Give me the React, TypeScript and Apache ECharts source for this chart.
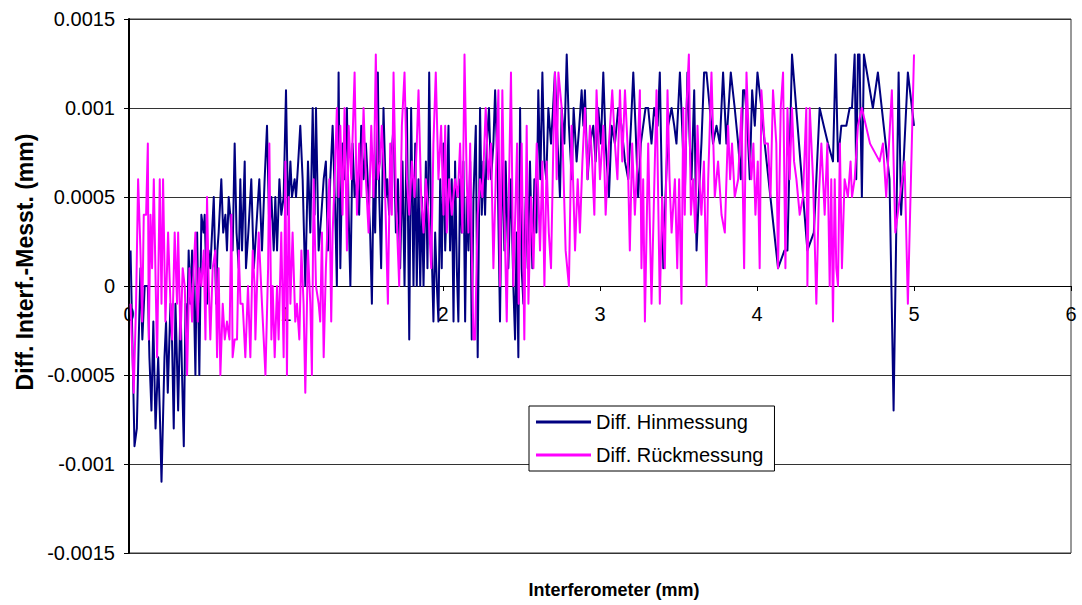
import React, { useEffect, useRef } from "react";
import * as echarts from "echarts";

// x in 1/100 mm, y in 1/10000 mm
const hin0: [number, number][] = [
  [1, 2], [3.5, -9], [5, -8], [6.2, -3], [7.3, 1], [8.5, -3], [10, 0], [12, 0], [13, -4], [14.3, -7],
  [15.5, -2], [16.9, -8], [18.6, -4], [19.6, -7], [20.7, -11], [22.6, -4], [23.6, -2], [24.7, -6], [26.4, -1], [27.4, -3],
  [28.5, -8], [29.6, -1], [30.5, -4], [31.3, -7], [32.8, -1], [33.8, -5], [34.9, -9], [36, -1], [37, -3], [38, 2],
  [39, -1], [40.2, 2], [41.2, 0], [42.3, -5], [43.4, 3], [44.1, -1], [44.8, -5], [46.1, 4], [47.5, 3], [48.2, 4],
  [49.7, -1], [50.7, 2], [51.8, 1], [52.9, 3], [54, 5], [55.5, -1], [56.3, 2], [57.1, 3], [58.8, 6], [60, 3],
  [61.4, 4], [62.4, 2], [63.5, 5], [64.5, 4], [66, 2], [67.3, 8], [68.5, 3], [69.9, 1], [70.9, 6], [72, 2],
  [73.7, 7], [74.5, 1], [76, 3], [77.9, 6], [79.5, 1],
];
const hin1: [number, number][] = [
  [81.6, 4], [83, 6], [84.7, 2], [86.4, 6], [87.9, 9], [89.4, 3], [90.7, 5], [92.2, 2], [93.2, 5], [94.3, 2],
  [95.8, 6], [97, 4], [98.5, 5], [100, 11], [101.3, 4], [102.8, 7], [103.8, 5], [105.5, 6], [106.4, 5], [107.8, 7],
  [109.1, 9], [110.6, 6], [112.3, 0], [114, 7], [115.5, 3], [117, 10], [118.2, 4], [119.1, 10], [120.8, 2], [122.5, 4],
  [124, 6], [125.4, 7], [126.7, 2], [128.2, 6], [129.7, 9], [131.4, 4], [132.4, 0], [133.5, 12], [134.6, 1], [136, 8],
  [137.3, 6], [138.8, 10], [139.9, 4], [141, 0], [142.4, 8], [143.7, 5], [145.2, 6], [146.6, 4], [147.9, 9], [149.4, 6],
  [150.9, 8], [152.6, 5], [153.6, 3], [154.7, -1], [155.8, 6], [156.8, 3], [158.5, 12], [159.4, 5], [160.6, 1], [162.1, 10],
  [163.6, 5],
];
const hin2: [number, number][] = [
  [164.5, 6], [165.7, 4], [167, 7], [168.5, 9], [170, 3], [171.3, 6], [172.7, 1], [174.2, 7], [175.5, 0], [177, 10],
  [178.5, -3], [179.7, 10], [181.2, 0], [182.3, 8], [183.3, 0], [184.4, 6], [185.5, 0], [186.5, 5], [187.6, 0], [189.1, 7],
  [190.1, 1], [191.2, 12], [192.5, 3], [193.9, -2], [195, 3], [196.1, 0], [197.1, -2], [198.2, 6], [199.2, 1], [200.3, 8],
  [201.4, 2], [202.4, 5], [203.5, 9], [204.5, 2], [205.6, 6], [206.7, -2], [207.7, 7], [208.8, 1], [209.8, -2], [210.9, 6],
  [212, 3], [213, 7], [214.1, -2], [215.1, 5], [216.2, 2], [217.3, 7], [218.3, -3], [219.4, 5], [220.9, 9], [222.1, -4],
  [223.6, 10], [224.7, 4], [225.7, 7], [226.8, 4], [227.9, 8], [229.3, 10], [230.6, 6], [232.1, 8], [233.2, 11], [234.9, 6],
  [236.3, -2], [237.8, 8], [239.1, 2], [239.9, 7], [241.6, 1], [243.3, 6], [244.8, 0], [245.9, -3], [246.9, 3], [248, -4],
];
const hin3: [number, number][] = [
  [249.1, 10], [250.1, 1], [251.2, -1], [252.7, 5], [254, 1], [255.4, 7], [256.9, 1], [258.2, 6], [259.5, 3], [260.7, 11],
  [262, 6], [263.3, 12], [264.6, 7], [265.8, 6], [267.1, 10], [268.8, 8], [270.1, 10], [271.3, 12], [273, 8], [274.5, 5],
  [275.6, 10], [277.3, 8], [278.8, 13], [280.2, 9], [282, 6], [283.2, 10], [285.1, 7], [286.8, 9], [288.3, 11], [289.4, 9],
  [290.4, 11], [292.1, 6], [293.6, 8], [295.7, 9], [297.2, 7], [298.9, 10], [300.6, 8], [302.1, 12], [303.6, 8], [305.7, 5],
  [307.4, 9], [309.5, 8], [311.6, 10], [313.7, 9], [315.9, 7], [318, 6], [319.7, 9], [321.2, 12], [322.6, 9], [324.3, 5],
  [326, 8], [327.5, 9], [329, 10],
];
const hin4: [number, number][] = [
  [330.7, 10], [332.8, 8], [334.5, 10], [336.7, 9], [338.1, 12], [340.3, 1], [341.7, 5], [343.4, 9], [345.6, 10], [347.3, 9],
  [348.7, 8], [350.9, 12], [352.3, 9], [354, 5], [355.7, 12], [357.2, 8], [358.3, 6], [360, 11], [361.5, 2], [362.9, 5],
  [364.6, 8], [366.3, 12], [367.8, 12], [369.9, 10], [372, 8], [374.2, 9], [376.3, 8], [378.4, 12], [380.5, 8], [383.3, 12],
  [385.8, 10], [388, 8], [389.7, 6], [391.1, 11], [392.2, 11], [393.9, 9], [395.4, 6], [396.9, 11], [398.6, 9], [400.3, 12],
  [402.8, 10], [404.9, 8], [413.4, 1],
];
const hin5: [number, number][] = [
  [417.5, 2], [419.4, 2], [422.3, 13], [432.1, 2], [436.2, 3], [439.9, 10], [442.5, 9], [445.2, 8], [448.4, 7], [450.1, 13],
  [451.6, 7], [453.7, 9], [456.9, 9], [459, 10], [460.5, 10], [462.2, 13], [463.2, 6], [464.3, 13], [465.3, 13], [466.8, 5],
  [468.1, 13], [473.8, 10], [477, 12], [484.4, 6], [487, -7], [490.2, 12], [491.8, 4], [496.1, 12], [500, 9],
];

const rueck0: [number, number][] = [
  [1, -1], [3, -6], [4.5, -1], [5.8, 6], [7.3, 2], [8.4, -2], [9.4, 4], [10.9, 4], [12, 8], [12.6, -3],
  [13.7, 4], [14.7, 1], [15.8, 6], [17, 0], [17.9, -4], [19.6, 6], [20.7, -1], [21.7, 6], [23.2, -2], [24.9, 3],
  [26.4, -1], [27.5, -3], [29.1, 3], [30.6, -1], [31.3, 3], [32.8, -3], [34.2, 1], [35.5, 0], [37, -5], [38.5, 1],
  [40.2, -2], [41.2, 1], [42.3, 3], [43.8, -2], [44.8, 1], [46.1, 0], [47.6, 2], [48.7, -3], [49.7, 5], [50.8, 0],
  [51.8, -3], [53.3, 1], [55, 2], [56.1, -4], [57.1, 1], [58.2, -5], [59.7, -1], [61, -3], [62.4, -2], [64, -3],
  [65.2, 4], [66, -4], [67.3, -3], [68.8, -3], [69.9, 2], [71, -1], [72.4, -1], [74.1, -4], [75.8, 0], [77.3, -4],
  [78.8, 2], [80, 0],
];
const rueck1: [number, number][] = [
  [80.5, -3], [82.6, 3], [84.7, -1], [86.9, -5], [88.6, 1], [89.4, 8], [90.7, -3], [91.5, 0], [92.8, -4], [94.3, 0],
  [95.3, -3], [97, 3], [98.5, -4], [99.6, 7], [100.6, -5], [101.7, 5], [102.8, -1], [104.2, 3], [105.9, -2], [107, -1],
  [108.5, -3], [109.8, 2], [111.2, -1], [112.3, -6], [114, 2], [115.5, -1], [116.5, -5], [117.6, 6], [119.1, 0], [120.8, -1],
  [121.8, -2], [122.9, 3], [124, -4], [125.4, 1], [126.7, 4], [127.6, 6], [128.8, -2], [129.7, 3], [131, 6], [132.4, 10],
  [133.5, 5], [134.6, 9], [136, 4], [137.3, 10], [138.8, 2], [139.9, 9], [141.6, 6], [143.7, 12], [145.2, 4], [146.6, 8],
  [147.9, 5], [149.4, 10], [150.9, 6], [152.6, 3], [154.3, 9], [155.8, 5], [157.2, 13], [158.5, 6], [160, 7], [161, 9],
  [163.2, 5], [164.9, -1],
];
const rueck2: [number, number][] = [
  [166.4, 8], [167.4, 4], [168.5, 12], [170, 5], [172.1, 0], [173.8, 9], [175.5, 12], [177, 6], [178.5, 4], [180.2, 7],
  [181.9, 5], [183.3, 8], [184.4, 11], [186.1, 5], [187.6, 3], [189.1, 6], [190.8, 4], [192.5, 1], [193.9, 8], [195.4, 12],
  [197.1, 6], [198.8, 9], [200.3, 4], [201.4, 9], [202.4, 3], [203.9, 6], [205.6, 4], [207.7, 6], [209.4, 5], [210.9, 8],
  [212.4, 3], [213.7, 13], [215.1, 6], [216.2, 3], [217.3, 8], [218.3, 2], [219.4, -3], [220.4, -3], [222.1, 4], [223.6, 6],
  [225.1, 5], [227.2, 10], [228.9, 6], [230.6, 8], [232.1, 1], [233.6, 6], [235.3, 11], [236.3, 0], [237.8, 11], [239.1, 4],
  [240.6, -2], [242.1, 6], [243.3, 12], [244.8, 0], [246.3, 5], [247.2, 8], [248.2, -1],
];
const rueck3: [number, number][] = [
  [250.1, 8], [251.8, -3], [253.3, 9], [254.4, -1], [256.1, 5], [257.6, 1], [259.7, 8], [261.8, 2], [263.3, 7], [264.6, 0],
  [266, 7], [267.4, 3], [268.8, 1], [270.3, 8], [271.3, 12], [272.4, 6], [273.5, 12], [275.6, 10], [278.1, 2], [280.2, 0],
  [281.9, 9], [284.1, 2], [285.8, 6], [287.2, 3], [288.8, 7], [290.4, 10], [292, 6], [293.6, 9], [295, 7], [296.4, 4],
  [297.8, 11], [300, 6], [302.1, 9], [303.6, 4], [305.7, 8], [307.8, 11], [309.5, 8], [311.1, 6], [312.7, 11], [314.2, 7],
  [315.9, 11], [317.5, 8], [319, 2], [320.5, 8], [322.2, 4], [323.8, 7], [325.4, 11], [326.4, 1], [327.5, 6], [328.6, -2],
];
const rueck4: [number, number][] = [
  [330.7, 8], [332.8, -1], [334.4, 5], [336, 11], [338.1, -1], [339.6, 5], [341.3, 1], [343, 11], [344.3, 6], [345.6, 3],
  [347.7, 6], [349.2, 1], [350.4, 6], [351.9, -1], [353, 10], [354, 4], [355.1, 10], [356.6, 13], [357.9, 4], [359.3, 6],
  [360.7, 3], [362.1, 9], [363.3, 6], [364.6, 4], [366.2, 7], [367.8, 0], [368.9, 6], [371, 12], [373.1, 5], [375.2, 7],
  [377.4, 4], [379.5, 3], [381.6, 9], [382.9, 6], [384.1, 8], [385.8, 5], [388, 6], [390.1, 10], [391.8, 1], [393.3, 12],
  [394.9, 8], [396.4, 6], [397.7, 8], [399, 4], [400.5, 7], [401.7, 1], [402.8, 11], [404.9, 8], [407, 8], [408.6, 5],
  [410.2, 11], [412.3, 8],
];
const rueck5: [number, number][] = [
  [413.4, 1], [415.1, 10], [416.6, 12], [418.1, 1], [419.4, 10], [420.8, 6], [422.3, 10], [423.6, 7], [425.1, 6], [427.2, 4],
  [429.3, 5], [431.4, 10], [432.1, 0], [433.6, 10], [435.7, 6], [437.8, -1], [439.4, 5], [441, 8], [443.1, 4], [444.8, 8],
  [446.3, 0], [447.3, 6], [448.4, -2], [449.5, 6], [450.5, 1], [451.6, 0], [452.8, 8], [454.1, 1], [455.8, 6], [457.9, 5],
  [459.6, 7], [460.5, 5], [462.2, 6], [464.3, 9], [466.8, 10], [472, 8], [478.1, 7], [480.2, 8], [482.3, 5], [485.9, 11],
  [488.1, 3], [494, 7], [496.1, -1], [500, 13],
];

const seriesNames = ["Diff. Hinmessung", "Diff. Rückmessung"];
const seriesColors = ["#000080", "#FF00FF"];
const xTitle = "Interferometer (mm)";
const yTitle = "Diff. Interf.-Messt. (mm)";

const FONT = "'Liberation Sans', Arial, sans-serif";

const GRID_TOP = 19;
const GRID_BOTTOM_PX = 553;
const ZERO_PX = (GRID_TOP + GRID_BOTTOM_PX) / 2;

const toMm = (segs: [number, number][][]) =>
  segs.flat().map(([x, y]) => [x / 100, y / 10000]);

export default function App() {
  const ref = useRef<HTMLDivElement>(null);
  useEffect(() => {
    if (!ref.current) return;
    const chart = echarts.init(ref.current, null, { renderer: "svg" });
    const hin = toMm([hin0, hin1, hin2, hin3, hin4, hin5]);
    const rueck = toMm([rueck0, rueck1, rueck2, rueck3, rueck4, rueck5]);
    chart.setOption({
      animation: false,
      backgroundColor: "#fff",
      textStyle: { fontFamily: FONT },
      grid: {
        left: 129,
        right: 11,
        top: GRID_TOP,
        bottom: 605 - GRID_BOTTOM_PX,
        show: true,
        borderColor: "#333",
        borderWidth: 1,
      },
      xAxis: {
        type: "value",
        min: 0,
        max: 6,
        interval: 1,
        position: "bottom",
        offset: -(GRID_BOTTOM_PX - ZERO_PX),
        axisLine: { show: true, onZero: false, lineStyle: { color: "#000", width: 1 } },
        axisTick: { show: true, length: 5, lineStyle: { color: "#000" } },
        axisLabel: { fontSize: 20, color: "#000", margin: 18, fontFamily: FONT },
        splitLine: { show: false },
      },
      yAxis: {
        type: "value",
        min: -0.0015,
        max: 0.0015,
        interval: 0.0005,
        axisLine: { show: true, onZero: false, lineStyle: { color: "#000", width: 2 } },
        axisTick: { show: true, length: 5, lineStyle: { color: "#000" } },
        axisLabel: {
          fontSize: 20,
          color: "#000",
          margin: 14,
          fontFamily: FONT,
          formatter: (v: number) => {
            const r = Math.round(v * 10000) / 10000;
            return r === 0 ? "0" : String(r);
          },
        },
        splitLine: { show: true, lineStyle: { color: "#333", width: 1 } },
      },
      legend: {
        orient: "vertical",
        left: 529,
        top: 406,
        backgroundColor: "#fff",
        borderColor: "#000",
        borderWidth: 1,
        padding: [6, 11, 6, 7],
        itemGap: 13,
        itemWidth: 55,
        itemHeight: 3,
        icon: "rect",
        textStyle: { fontSize: 20, color: "#000", fontFamily: FONT },
        data: seriesNames,
      },
      graphic: [
        {
          type: "text",
          x: 25,
          y: 262,
          rotation: Math.PI / 2,
          style: {
            text: yTitle,
            font: `bold 23px ${FONT}`,
            fill: "#000",
            align: "center",
            verticalAlign: "middle",
          },
        },
        {
          type: "text",
          x: 614,
          y: 590,
          style: {
            text: xTitle,
            font: `bold 18px ${FONT}`,
            fill: "#000",
            align: "center",
            verticalAlign: "middle",
          },
        },
      ],
      series: [
        {
          name: seriesNames[0],
          type: "line",
          data: hin,
          showSymbol: false,
          symbol: "none",
          lineStyle: { color: seriesColors[0], width: 2, join: "round" },
          itemStyle: { color: seriesColors[0] },
        },
        {
          name: seriesNames[1],
          type: "line",
          data: rueck,
          showSymbol: false,
          symbol: "none",
          lineStyle: { color: seriesColors[1], width: 2, join: "round" },
          itemStyle: { color: seriesColors[1] },
        },
      ],
    });
    return () => chart.dispose();
  }, []);
  return (
    <div
      ref={ref}
      style={{ position: "fixed", left: 0, top: 0, width: 1082, height: 605, background: "#fff" }}
    />
  );
}
